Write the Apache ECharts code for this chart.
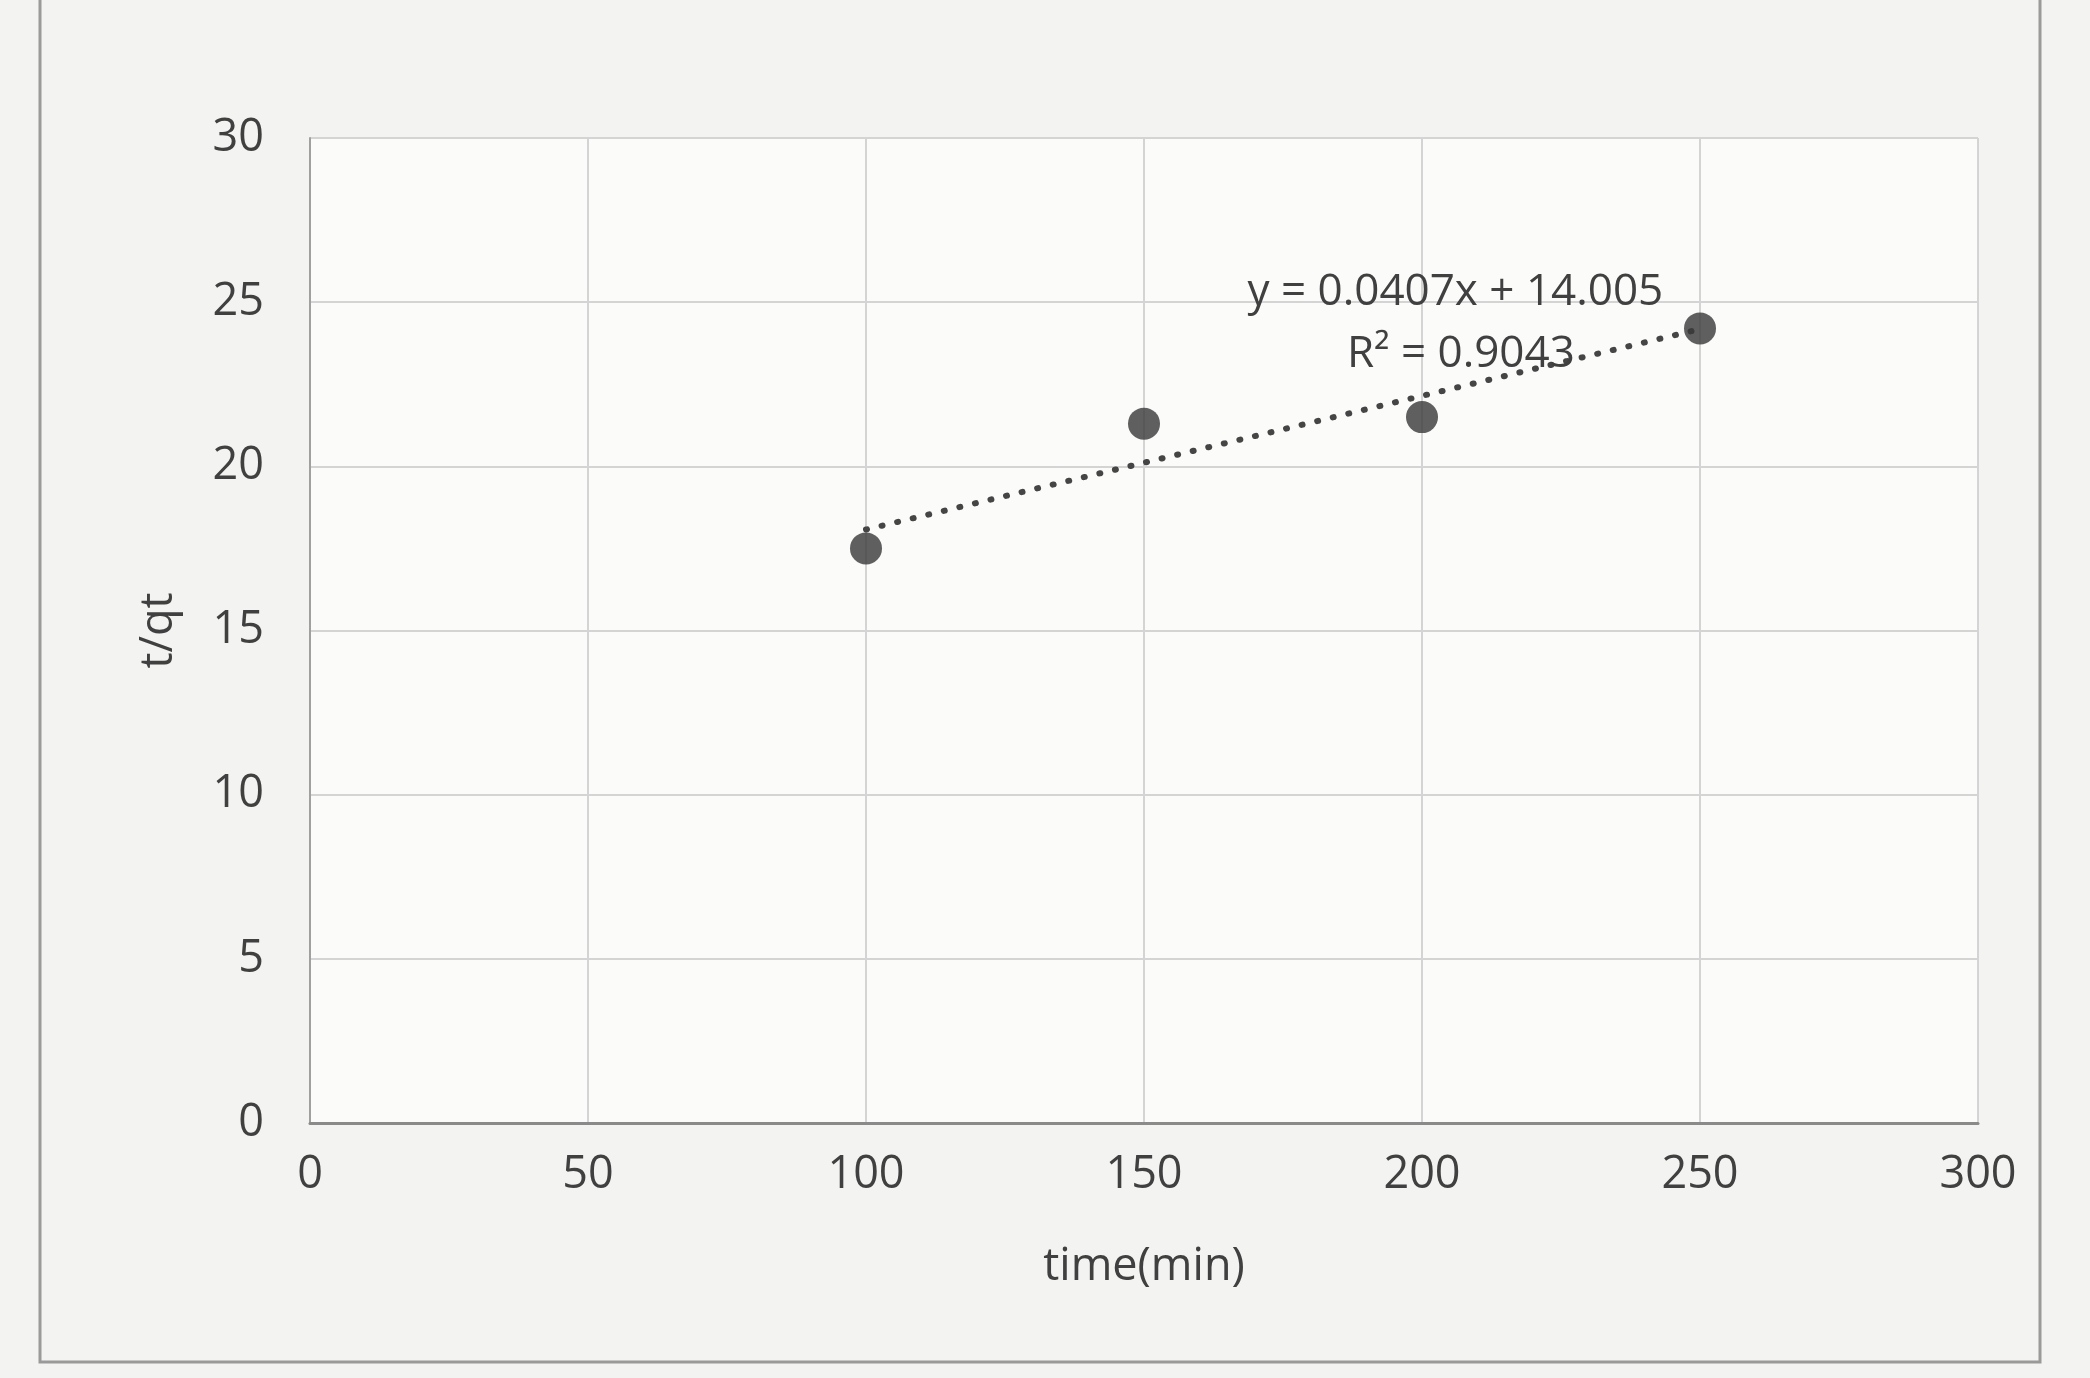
<!DOCTYPE html>
<html>
<head>
<meta charset="utf-8">
<script src="https://cdn.jsdelivr.net/npm/echarts@6/dist/echarts.min.js"></script>
<style>
  html, body { margin: 0; padding: 0; background: #f3f3f1; }
  #chart { width: 2090px; height: 1378px; }
</style>
</head>
<body>
<div id="chart"></div>
<script>
// Measured points: time (min) vs t/qt
const timeMin = [100, 150, 200, 250];
const tOverQt = [17.5, 21.3, 21.5, 24.2];

// Linear trendline reported on the chart
const trendSlope = 0.0407;
const trendIntercept = 14.005;
const trendR2 = 0.9043;

// Axis ticks
const xTicks = [0, 50, 100, 150, 200, 250, 300];
const yTicks = [0, 5, 10, 15, 20, 25, 30];

const FONT = '"Open Sans", "Noto Sans", sans-serif';
const TXT = '#404040';

const points = timeMin.map((x, i) => [x, tOverQt[i]]);
const xFirst = timeMin[0], xLast = timeMin[timeMin.length - 1];
const trendLine = [
  [xFirst, trendSlope * xFirst + trendIntercept],
  [xLast, trendSlope * xLast + trendIntercept]
];

const frame = {
  type: 'rect',
  shape: { x: 40, y: -10, width: 2000, height: 1372 },
  style: { fill: 'none', stroke: '#9a9a9a', lineWidth: 3 },
  silent: true, z: -1
};

const chart = echarts.init(document.getElementById('chart'), null, { renderer: 'canvas' });

chart.setOption({
  backgroundColor: '#f3f3f1',
  animation: false,
  grid: { left: 310, right: 112, top: 138, bottom: 255, show: true, backgroundColor: '#fbfbfa', borderWidth: 0 },
  xAxis: {
    type: 'value',
    min: xTicks[0], max: xTicks[xTicks.length - 1], interval: 50,
    name: 'time(min)', nameLocation: 'middle', nameGap: 122,
    nameTextStyle: { fontFamily: FONT, fontSize: 45, color: TXT },
    axisLine: { show: true, lineStyle: { color: '#8a8a8a', width: 3 } },
    axisTick: { show: false },
    axisLabel: { fontFamily: FONT, fontSize: 45, color: TXT, margin: 30 },
    splitLine: { show: true, lineStyle: { color: '#d4d4d4', width: 2 } }
  },
  yAxis: {
    type: 'value',
    min: yTicks[0], max: yTicks[yTicks.length - 1], interval: 5,
    name: 't/qt', nameLocation: 'middle', nameGap: 128, nameRotate: 90,
    nameTextStyle: { fontFamily: FONT, fontSize: 45, color: TXT },
    axisLine: { show: true, lineStyle: { color: '#a0a0a0', width: 2 } },
    axisTick: { show: false },
    axisLabel: { fontFamily: FONT, fontSize: 45, color: TXT, margin: 46 },
    splitLine: { show: true, lineStyle: { color: '#d4d4d4', width: 2 } }
  },
  series: [
    {
      name: 'Linear trend',
      type: 'line',
      data: trendLine,
      symbol: 'none',
      lineStyle: { color: '#454545', width: 6, type: [1, 15], cap: 'round' },
      z: 2
    },
    {
      name: 't/qt',
      type: 'scatter',
      data: points,
      symbol: 'circle',
      symbolSize: 32,
      itemStyle: { color: '#383838' },
      z: 3
    }
  ],
  graphic: [frame]
});

// Trendline equation and R² placed in data coordinates
const eqPos = chart.convertToPixel({ gridIndex: 0 }, [206, 25.3]);
const r2Pos = chart.convertToPixel({ gridIndex: 0 }, [207, 23.4]);
chart.setOption({
  graphic: [
    frame,
    {
      type: 'text', x: eqPos[0], y: eqPos[1], z: 10,
      style: {
        text: 'y = ' + trendSlope + 'x + ' + trendIntercept.toFixed(3),
        fontFamily: FONT, fontSize: 44, fill: TXT,
        align: 'center', verticalAlign: 'middle'
      }
    },
    {
      type: 'text', x: r2Pos[0], y: r2Pos[1], z: 10,
      style: {
        text: 'R² = ' + trendR2,
        fontFamily: FONT, fontSize: 44, fill: TXT,
        align: 'center', verticalAlign: 'middle'
      }
    }
  ]
});
</script>
</body>
</html>
